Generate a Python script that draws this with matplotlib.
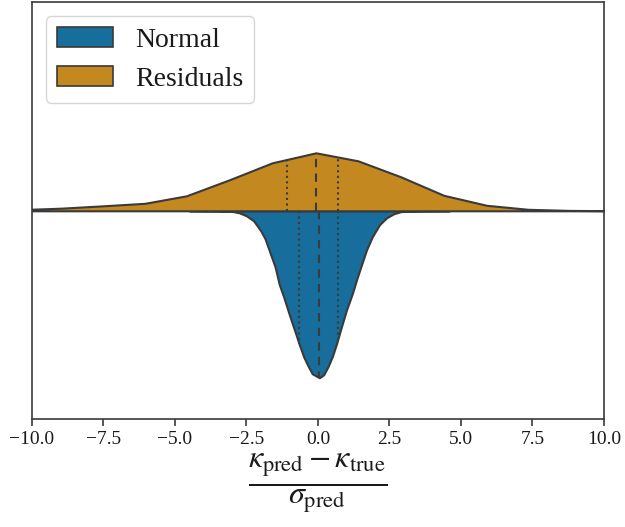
import numpy as np
import matplotlib
matplotlib.use("Agg")
import matplotlib.pyplot as plt
from matplotlib.patches import Patch

# Densidades (unidades relativas)
resid_x = [-10.4, -9.0, -7.5, -6.05, -4.6, -3.1, -1.6, -0.07, 1.4, 2.9, 4.4, 5.9, 7.35, 8.8, 10.3]
resid_d = [1.2, 2.6, 5.0, 7.5, 15, 31, 48, 58, 50, 34, 15.5, 5.5, 1.5, 0.4, 0.1]
resid_q = [-1.09, -0.07, 0.71]   # cuartiles

normal_x = [-4.5, -3.5, -3.0, -2.75, -2.5, -2.25, -2.0, -1.85, -1.7, -1.5, -1.35, -1.2, -1.0,
            -0.8, -0.65, -0.5, -0.35, -0.2, 0.05, 0.2, 0.35, 0.5, 0.65, 0.8, 1.0, 1.2, 1.35,
            1.5, 1.7, 1.9, 2.15, 2.4, 2.65, 2.9, 3.5, 4.6]
normal_d = [0, 0.2, 0.6, 2, 5, 10, 20, 28, 40, 56, 74, 86, 104, 121, 134, 146, 155, 163, 167,
            164, 156, 146, 133, 118, 99, 83, 69, 56, 39, 26, 14, 7, 3, 0.8, 0.2, 0]
normal_q = [-0.66, 0.02, 0.70]

labels = ["Normal", "Residuals"]
colors = ["#176d9c", "#c38820"]
edge = "#3a3a3a"

plt.rcParams["font.family"] = ["Liberation Serif", "DejaVu Serif"]
plt.rcParams["mathtext.fontset"] = "stix"

fig = plt.figure(figsize=(6.25, 5.27), dpi=100)
ax = fig.add_axes([0.0512, 0.204, 0.915, 0.792])

# escala: la densidad maxima ocupa media anchura de violin (0.4)
dmax = max(max(resid_d), max(normal_d))
scale = 0.4 / dmax

rx = np.array(resid_x)
rd = np.array(resid_d) * scale
nx = np.array(normal_x)
nd = np.array(normal_d) * scale

ax.fill_between(nx, 0, -nd, facecolor=colors[0], edgecolor=edge, linewidth=1.5, zorder=2)
ax.fill_between(rx, 0, rd, facecolor=colors[1], edgecolor=edge, linewidth=1.5, zorder=2)

# lineas de cuartiles
for i, q in enumerate(normal_q):
    h = np.interp(q, nx, nd)
    ls = (0, (4, 3)) if i == 1 else ":"
    ax.plot([q, q], [0, -h], color=edge, linestyle=ls, linewidth=1.5, zorder=3)
for i, q in enumerate(resid_q):
    h = np.interp(q, rx, rd)
    ls = (0, (4, 3)) if i == 1 else ":"
    ax.plot([q, q], [0, h], color=edge, linestyle=ls, linewidth=1.5, zorder=3)

ax.set_xlim(-10, 10)
ax.set_ylim(-0.5, 0.5)
ax.set_yticks([])
ax.set_xticks([-10, -7.5, -5, -2.5, 0, 2.5, 5, 7.5, 10])
ax.tick_params(axis="x", labelsize=14, length=5, width=1.2, color=edge, labelcolor="#1a1a1a")
for s in ax.spines.values():
    s.set_color(edge)
    s.set_linewidth(1.2)

ax.set_xlabel(r"$\frac{\kappa_{\rm pred} - \kappa_{\rm true}}{\sigma_{\rm pred}}$",
              fontsize=33, color="#1a1a1a", labelpad=3)

handles = [Patch(facecolor=colors[i], edgecolor=edge, linewidth=1.2, label=labels[i]) for i in range(2)]
leg = ax.legend(handles=handles, loc="upper left", fontsize=20, handlelength=2.0,
                fancybox=True, framealpha=0.8)
for t in leg.get_texts():
    t.set_color("#1a1a1a")

fig.savefig("out.png", dpi=100)
